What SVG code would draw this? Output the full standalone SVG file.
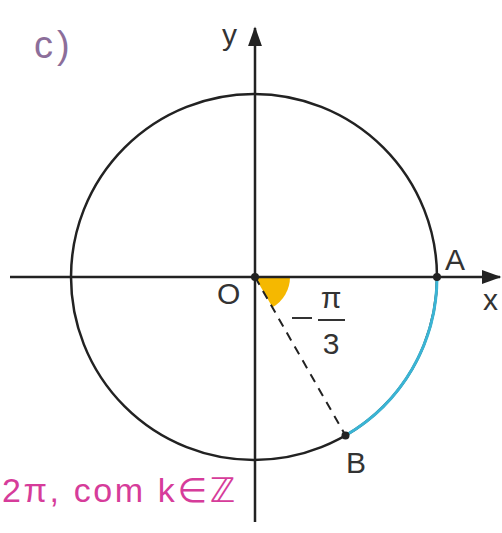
<svg xmlns="http://www.w3.org/2000/svg" width="502" height="533" viewBox="0 0 502 533">
<style>
.lbl{font-family:"Liberation Sans",Arial,sans-serif;fill:#333;font-size:30px}
.ax{stroke:#222;stroke-width:2.5;fill:none}
</style>
<defs>
<marker id="ah" viewBox="0 0 14 10" refX="13" refY="5" markerWidth="20" markerHeight="14" markerUnits="userSpaceOnUse" orient="auto">
<path d="M0,0 L14,5 L0,10 z" fill="#222"/>
</marker>
</defs>
<rect width="502" height="533" fill="#fff"/>
<g id="title"><text x="34" y="58" font-family="Liberation Sans,Arial,sans-serif" font-size="38" fill="#8c6e9a" letter-spacing="4">c)</text></g>
<g id="sector"><path d="M255,277 L290,277 A35,35 0 0 1 272.5,307.3 Z" fill="#f5b800"/></g>
<g id="circle"><circle cx="254" cy="277" r="183" fill="none" stroke="#222" stroke-width="2.5"/></g>
<g id="arcAB"><path d="M437,277 A183,183 0 0 1 345.5,435.5" fill="none" stroke="#3ab4d4" stroke-width="3"/></g>
<g id="connectors">
<line class="ax" x1="10" y1="277" x2="500" y2="277" marker-end="url(#ah)"/>
<line class="ax" x1="255" y1="522" x2="255" y2="28" marker-end="url(#ah)"/>
<line x1="255" y1="277" x2="345.5" y2="435.5" stroke="#222" stroke-width="2" stroke-dasharray="9,7"/>
</g>
<g id="O"><circle cx="255" cy="277" r="4" fill="#222"/><text class="lbl" x="217" y="304">O</text></g>
<g id="A"><circle cx="437" cy="277" r="4" fill="#222"/><text class="lbl" x="445" y="270">A</text></g>
<g id="B"><circle cx="345.5" cy="435.5" r="4" fill="#222"/><text class="lbl" x="346" y="473">B</text></g>
<g id="xlabel"><text class="lbl" x="483" y="310">x</text></g>
<g id="ylabel"><text class="lbl" x="222" y="45">y</text></g>
<g id="angle">
<line x1="292" y1="318" x2="312" y2="318" stroke="#333" stroke-width="2"/>
<text class="lbl" x="331" y="308" text-anchor="middle" font-size="28">π</text>
<line x1="318" y1="320" x2="345" y2="320" stroke="#333" stroke-width="2"/>
<text class="lbl" x="331" y="354" text-anchor="middle">3</text>
</g>
<g id="formula"><text x="2" y="502" textLength="233" lengthAdjust="spacing" font-family="Liberation Sans,DejaVu Sans,sans-serif" font-size="34" fill="#d63c9a">2π, com k∈ℤ</text></g>
</svg>
